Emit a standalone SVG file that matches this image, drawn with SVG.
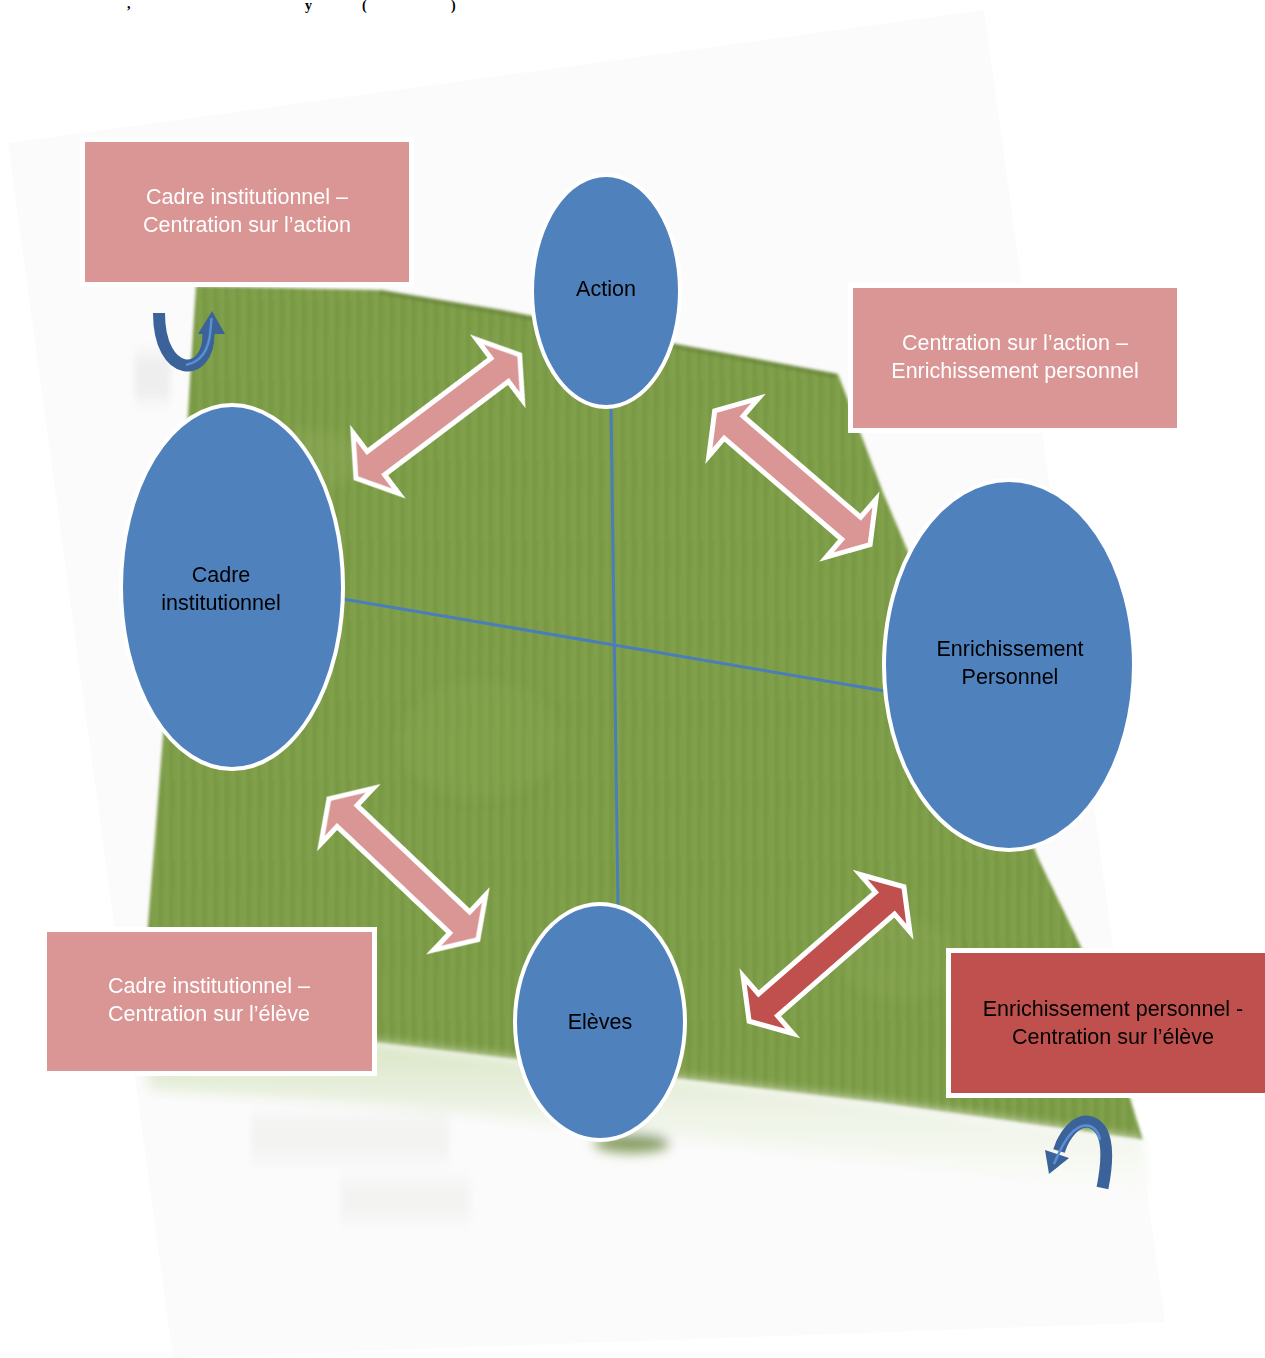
<svg xmlns="http://www.w3.org/2000/svg" width="1265" height="1358" viewBox="0 0 1265 1358">
  <defs>
    <style>
      .lbl { font-family: "Liberation Sans", Arial, sans-serif; font-size: 21.5px; text-anchor: middle; }
      .dark { fill: #000; }
      .light { fill: #fff; }
      .node ellipse { fill: #4f81bd; stroke: #fff; stroke-width: 4; }
      .box rect { stroke: #fff; stroke-width: 5; }
      .pink { fill: #d99694; }
      .red { fill: #c0504d; }
      .link { stroke: #4a7ebb; stroke-width: 3; fill: none; }
      .ba { stroke: #fff; stroke-width: 5; stroke-linejoin: miter; stroke-miterlimit: 6; }
      .curl { fill: none; stroke: #3b6399; stroke-width: 12; stroke-linecap: butt; }
      .curl-hi { fill: none; stroke: #5b8fd3; stroke-width: 2.5; }
      .frag { font-family: "Liberation Serif", "Times New Roman", serif; font-size: 14px; font-weight: bold; fill: #000; }
    </style>
    <pattern id="turf" patternUnits="userSpaceOnUse" width="11" height="80">
      <rect width="11" height="80" fill="#7c9b46"/>
      <rect x="1" width="2" height="80" fill="#8dac57" opacity="0.55"/>
      <rect x="6" width="1.5" height="80" fill="#6e8c3b" opacity="0.45"/>
      <rect x="9" y="10" width="1" height="50" fill="#93b25c" opacity="0.4"/>
    </pattern>
    <pattern id="print" patternUnits="userSpaceOnUse" width="6" height="40">
      <rect x="1" width="2" height="40" fill="#c9ccc6"/>
    </pattern>
    <linearGradient id="foot" x1="0" y1="0" x2="0" y2="1">
      <stop offset="0" stop-color="#d6e3c0"/>
      <stop offset="0.5" stop-color="#eef3e6"/>
      <stop offset="1" stop-color="#fbfcf9"/>
    </linearGradient>
    <filter id="soft" x="-5%" y="-5%" width="110%" height="110%">
      <feGaussianBlur stdDeviation="1.6"/>
    </filter>
    <filter id="haze" x="-20%" y="-20%" width="140%" height="140%">
      <feGaussianBlur stdDeviation="6"/>
    </filter>
    <filter id="smudge" x="-20%" y="-20%" width="140%" height="140%">
      <feGaussianBlur stdDeviation="3 8"/>
    </filter>
    <polygon id="dblArrow" points="-102.5,0 -77.5,-38 -77.5,-14.5 77.5,-14.5 77.5,-38 102.5,0 77.5,38 77.5,14.5 -77.5,14.5 -77.5,38"/>
  </defs>

  <rect width="1265" height="1358" fill="#fff"/>

  <!-- line of text cut by the top edge -->
  <text class="frag" x="127" y="8">,</text>
  <text class="frag" x="305" y="10">y</text>
  <text class="frag" x="362" y="10">(</text>
  <text class="frag" x="451" y="10">)</text>

  <!-- tilted page behind the board -->
  <polygon points="8,143 984,10 1165,1322 173,1358" fill="#fbfbfb"/>

  <!-- green board -->
  <g id="board">
    <g filter="url(#soft)">
      <polygon points="196,286 380,290 500,310 680,345 838,374 884,495 1040,862 1085,955 1143,1140 880,1103 380,1043 140,1030 150,900 185,460" fill="url(#turf)"/>
      <polyline points="380,292 500,312 680,347 836,376" fill="none" stroke="#5f7d33" stroke-width="5" opacity="0.5"/>
    </g>
    <g filter="url(#haze)">
      <ellipse cx="300" cy="460" rx="70" ry="30" fill="#a4c06c" opacity="0.2"/>
      <ellipse cx="480" cy="740" rx="80" ry="60" fill="#a4c06c" opacity="0.1"/>
      <ellipse cx="900" cy="960" rx="60" ry="40" fill="#a4c06c" opacity="0.12"/>
      <polygon points="140,1030 380,1043 880,1103 1143,1140 1150,1190 880,1160 380,1105 150,1090" fill="url(#foot)"/>
      <ellipse cx="632" cy="1143" rx="38" ry="10" fill="#6d8a3c" opacity="0.8"/>
    </g>
    <g filter="url(#smudge)" opacity="0.45">
      <rect x="250" y="1115" width="200" height="45" fill="url(#print)"/>
      <rect x="340" y="1180" width="130" height="40" fill="url(#print)"/>
      <rect x="135" y="355" width="35" height="45" fill="#dedede"/>
    </g>
  </g>

  <!-- connectors -->
  <g id="connectors">
    <line class="link" x1="611" y1="406" x2="618" y2="906"/>
    <line class="link" x1="343" y1="599" x2="885" y2="691"/>
    <use href="#dblArrow" class="ba" fill="#d99694" transform="translate(437.8,416.5) rotate(-37)"/>
    <use href="#dblArrow" class="ba" fill="#d99694" transform="translate(792.4,477.7) rotate(40.7)"/>
    <use href="#dblArrow" class="ba" fill="#d99694" transform="translate(403.4,869.2) rotate(43.4)"/>
    <use href="#dblArrow" class="ba" fill="#c0504d" transform="translate(826.5,954) rotate(-41)"/>
  </g>

  <!-- nodes -->
  <g id="node-action" class="node">
    <ellipse cx="606" cy="291" rx="74" ry="116"/>
    <text class="lbl dark" x="606" y="296">Action</text>
  </g>
  <g id="node-cadre" class="node">
    <ellipse cx="232" cy="587" rx="111" ry="182"/>
    <text class="lbl dark" x="221" y="582">Cadre</text>
    <text class="lbl dark" x="221" y="610">institutionnel</text>
  </g>
  <g id="node-enrichissement" class="node">
    <ellipse cx="1009" cy="665" rx="125" ry="185"/>
    <text class="lbl dark" x="1010" y="656">Enrichissement</text>
    <text class="lbl dark" x="1010" y="684">Personnel</text>
  </g>
  <g id="node-eleves" class="node">
    <ellipse cx="600" cy="1022" rx="85" ry="118"/>
    <text class="lbl dark" x="600" y="1029">Elèves</text>
  </g>

  <!-- quadrant labels -->
  <g id="box-cadre-action" class="box">
    <rect class="pink" x="82.5" y="139.5" width="329" height="145"/>
    <text class="lbl light" x="247" y="204">Cadre institutionnel –</text>
    <text class="lbl light" x="247" y="232">Centration sur l’action</text>
  </g>
  <g id="box-action-enrichissement" class="box">
    <rect class="pink" x="850.5" y="285.5" width="329" height="145"/>
    <text class="lbl light" x="1015" y="350">Centration sur l’action –</text>
    <text class="lbl light" x="1015" y="378">Enrichissement personnel</text>
  </g>
  <g id="box-cadre-eleve" class="box">
    <rect class="pink" x="44.5" y="929.5" width="330" height="144"/>
    <text class="lbl light" x="209" y="993">Cadre institutionnel –</text>
    <text class="lbl light" x="209" y="1021">Centration sur l’élève</text>
  </g>
  <g id="box-enrichissement-eleve" class="box">
    <rect class="red" x="948.5" y="950.5" width="330" height="145"/>
    <text class="lbl dark" x="1113" y="1016">Enrichissement personnel -</text>
    <text class="lbl dark" x="1113" y="1044">Centration sur l’élève</text>
  </g>

  <!-- curved arrows -->
  <g id="curl-top-left">
    <path class="curl" d="M159,313 C159,379 209,379 208.5,334"/>
    <polygon points="198,334 212,311 225,334" fill="#3b6399"/>
    <path class="curl-hi" d="M186,365 C200,362 209,352 210.5,330 L211.5,318"/>
  </g>
  <g id="curl-bottom-right">
    <path class="curl" d="M1102.5,1188 C1108,1160 1110,1128 1090,1122 C1076,1119 1064,1135 1059,1151"/>
    <polygon points="1045,1150 1049,1174 1069,1158" fill="#3b6399"/>
    <path class="curl-hi" d="M1100,1140 C1098,1128 1090,1124 1082,1126 C1070,1130 1062,1145 1054,1164"/>
  </g>
</svg>
